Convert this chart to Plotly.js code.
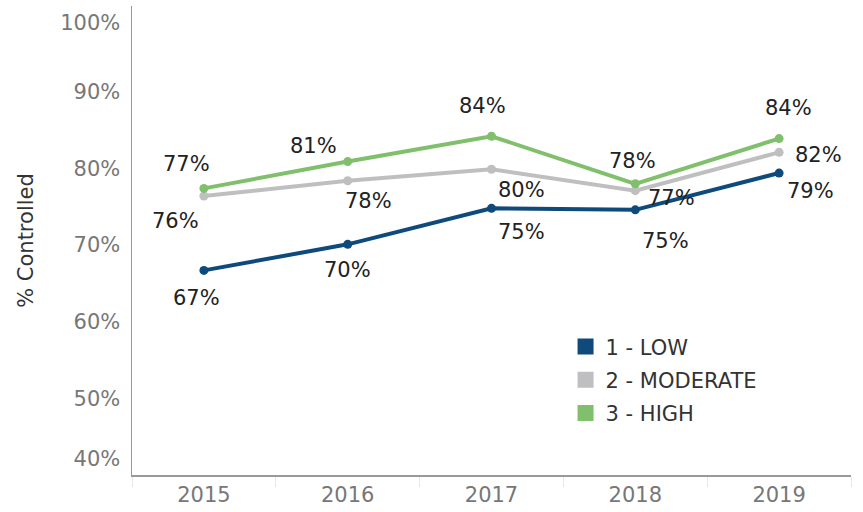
<!DOCTYPE html>
<html>
<head>
<meta charset="utf-8">
<script src="https://cdn.plot.ly/plotly-3.0.1.min.js"></script>
<style>
  html, body { margin: 0; padding: 0; background: #fff; }
  #chart { width: 863px; height: 512px; }
</style>
</head>
<body>
<div id="chart"></div>
<script>
// Data
const years = ["2015", "2016", "2017", "2018", "2019"];
const seriesNames = ["1 - LOW", "2 - MODERATE", "3 - HIGH"];
const lowVals = [66.7, 70.1, 74.8, 74.6, 79.4];
const moderateVals = [76.4, 78.4, 79.9, 77.1, 82.1];
const highVals = [77.4, 80.9, 84.2, 78.0, 83.9];
const yTickText = ["40%", "50%", "60%", "70%", "80%", "90%", "100%"];

// Styling
const colors = ["#0e4a7c", "#bfbfc1", "#80c06c"];
const FONT = "'DejaVu Sans', Lato, sans-serif";
// pixel offsets of each value label from its point [dx, dy], per series
const labelOffsets = [
  [[-7, 28], [0, 26], [30, 24], [30, 31], [31, 18]],
  [[-28, 25], [21, 20], [30, 21], [36, 7], [39, 3]],
  [[-17, -24], [-34, -16], [-9, -30], [-3, -23], [9, -31]]
];
// Tableau pulls the edge tick labels inside the axis
const yTickVals = [42.1, 50, 60, 70, 80, 90, 99];

const allVals = [lowVals, moderateVals, highVals];

const traces = allVals.map((vals, i) => ({
  x: years,
  y: vals,
  name: seriesNames[i],
  mode: "lines+markers",
  line: {color: colors[i], width: 4},
  marker: {color: colors[i], size: 9},
  showlegend: false,
  hoverinfo: "skip"
}));

// legend-only square swatches (no visible points)
allVals.forEach((vals, i) => {
  traces.push({
    x: [years[0]],
    y: [null],
    name: seriesNames[i],
    legendgroup: "g" + i,
    mode: "markers",
    marker: {color: colors[i], symbol: "square", size: 16},
    showlegend: true,
    hoverinfo: "skip"
  });
});

const annotations = [];
allVals.forEach((vals, i) => {
  vals.forEach((v, j) => {
    annotations.push({
      x: j,
      y: v,
      xref: "x",
      yref: "y",
      text: Math.round(v) + "%",
      showarrow: false,
      xshift: labelOffsets[i][j][0],
      yshift: -labelOffsets[i][j][1],
      font: {family: FONT, size: 21, color: "#222"}
    });
  });
});

const layout = {
  width: 863,
  height: 512,
  paper_bgcolor: "#fff",
  plot_bgcolor: "#fff",
  margin: {l: 132, r: 12, t: 6, b: 37},
  font: {family: FONT, size: 21, color: "#333"},
  showlegend: true,
  legend: {
    x: 0.603, y: 0.203, xanchor: "left", yanchor: "middle",
    font: {family: FONT, size: 21, color: "#333"},
    bgcolor: "rgba(0,0,0,0)",
    tracegroupgap: 3,
    itemwidth: 30
  },
  xaxis: {
    type: "category",
    categoryorder: "array",
    categoryarray: years,
    range: [-0.5, years.length - 0.5],
    showline: true,
    linecolor: "#999",
    linewidth: 1.5,
    showgrid: false,
    zeroline: false,
    ticks: "outside",
    tickson: "boundaries",
    ticklen: 10,
    tickcolor: "#e6e6e6",
    tickwidth: 1,
    tickangle: 0,
    tickfont: {family: FONT, size: 21, color: "#777"},
    fixedrange: true
  },
  yaxis: {
    range: [40, 101.2],
    showline: true,
    linecolor: "#999",
    linewidth: 1.5,
    showgrid: false,
    zeroline: false,
    ticks: "",
    tickvals: yTickVals,
    ticktext: yTickText,
    ticklabelstandoff: 6,
    tickfont: {family: FONT, size: 21, color: "#777"},
    title: {text: "% Controlled", font: {family: FONT, size: 21, color: "#333"}, standoff: 21},
    fixedrange: true
  },
  annotations: annotations
};

Plotly.newPlot("chart", traces, layout, {displayModeBar: false, staticPlot: true});
</script>
</body>
</html>
